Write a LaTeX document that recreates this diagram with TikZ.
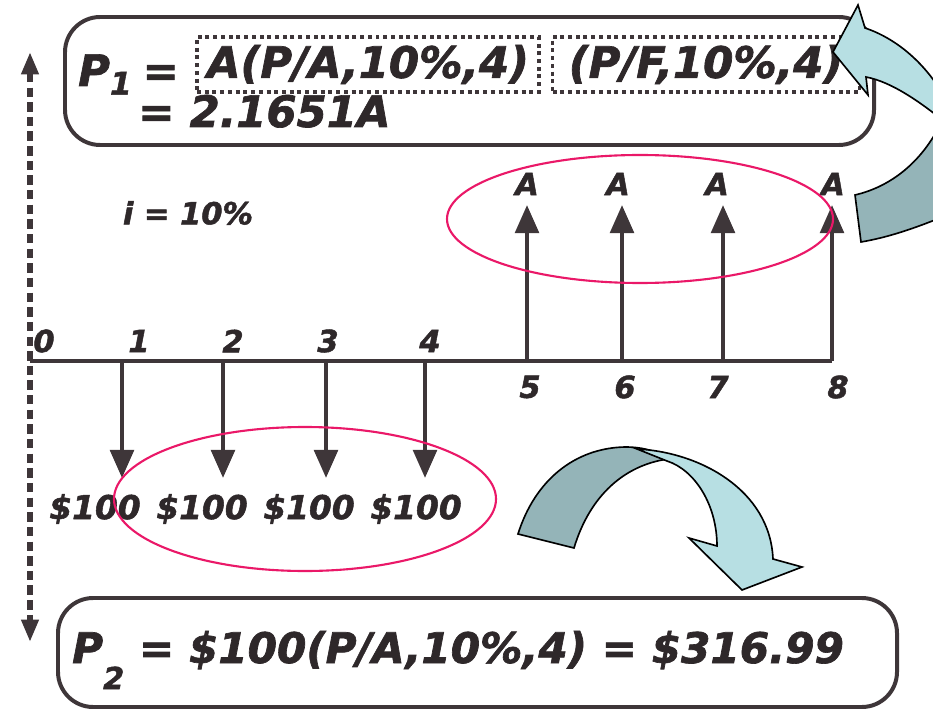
\documentclass[tikz,border=0pt]{standalone}
\usepackage{fontspec}
\setmainfont{DejaVu Sans}[BoldItalicFeatures={FakeBold=1.6}]
\usetikzlibrary{arrows.meta,calc}

\definecolor{ink}{RGB}{46,40,42}
\definecolor{rim}{RGB}{62,54,57}
\definecolor{ringpink}{RGB}{234,24,104}
\definecolor{swirllight}{RGB}{183,223,227}
\definecolor{swirldark}{RGB}{148,180,184}
\newcommand{\lowsub}[2]{\raisebox{#1}{\scalebox{0.72}{#2}}}

\begin{document}
\begin{tikzpicture}[
  x=0.03cm, y=-0.03cm,
  eqbox/.style={draw=rim, line width=3.4pt, rounded corners=30pt},
  term/.style={draw=rim, line width=3pt, dash pattern=on 3.4pt off 3.2pt, minimum height=47pt, inner sep=0pt,
    font=\fontsize{37}{40}\selectfont\bfseries\itshape, text=ink},
  eq/.style={anchor=base west, inner sep=0pt, text=ink, font=\fontsize{37}{40}\selectfont\bfseries\itshape},
  tickno/.style={inner sep=0pt, text=ink, font=\fontsize{26}{28}\selectfont\bfseries\itshape},
  cash/.style={inner sep=0pt, text=ink, font=\fontsize{28}{30}\selectfont\bfseries\itshape},
  timeline/.style={draw=rim, line width=3.4pt},
  flow/.style={draw=rim, line width=3.8pt, -{Triangle[length=24pt, width=20pt]}},
  span/.style={draw=rim, line width=4.6pt, dash pattern=on 8pt off 4.5pt, {Triangle[length=19pt, width=14pt]}-{Triangle[length=19pt, width=14pt]}},
  ring/.style={draw=ringpink, line width=1.8pt},
  swirl/.style={draw=black, line width=1.4pt, line join=miter},
]
  \useasboundingbox (0,0) rectangle (933,710);
  \clip (0,0) rectangle (933,710);

  % Present worth of the A series
  \draw[eqbox] (65,17) rectangle (874,145);
  \node[eq] (pone) at (78,86) {P\lowsub{-0.2em}{1}\hspace{0.25em}=};
  \node[term, minimum width=292pt] (pafactor) at (368,64.5) {A(P/A,10\%,4)};
  \node[term, minimum width=262pt] (pffactor) at (706,64.5) {(P/F,10\%,4)};
  \node[eq] (pvalue) at (138,127) {= 2.1651A};

  % Present worth of the payments
  \draw[eqbox] (58,598) rectangle (897,707);
  \node[eq, font=\fontsize{36}{38}\selectfont\bfseries\itshape] (ptwo) at (72,663)
    {P\lowsub{-0.62em}{2} = \$100(P/A,10\%,4) = \$316.99};

  % Time line
  \coordinate (vtop) at (30,52);
  \coordinate (vbot) at (30,642);
  \draw[span] (vtop) -- (vbot);
  \node[tickno] (rate) at (188,213) {i = 10\%};

  \coordinate (t0) at (30,361);
  \coordinate (t1) at (122,361);
  \coordinate (t2) at (223,361);
  \coordinate (t3) at (326,361);
  \coordinate (t4) at (425,361);
  \coordinate (t5) at (527,361);
  \coordinate (t6) at (622,361);
  \coordinate (t7) at (723,361);
  \coordinate (t8) at (832,361);
  \draw[timeline] (t0) -- (t8);

  \node[tickno] (n0) at (44,341) {0};
  \node[tickno] (n1) at (139,341) {1};
  \node[tickno] (n2) at (233,341) {2};
  \node[tickno] (n3) at (328,341) {3};
  \node[tickno] (n4) at (430,341) {4};
  \node[tickno] (n5) at (530,387) {5};
  \node[tickno] (n6) at (625,387) {6};
  \node[tickno] (n7) at (718,387) {7};
  \node[tickno] (n8) at (838,387) {8};

  % Payments
  \coordinate (pay1) at (122,478);
  \coordinate (pay2) at (223,478);
  \coordinate (pay3) at (326,478);
  \coordinate (pay4) at (425,478);
  \draw[flow] (t1) -- (pay1);
  \draw[flow] (t2) -- (pay2);
  \draw[flow] (t3) -- (pay3);
  \draw[flow] (t4) -- (pay4);
  \node[cash] (c1) at (95,509) {\$100};
  \node[cash] (c2) at (202,509) {\$100};
  \node[cash] (c3) at (309,509) {\$100};
  \node[cash] (c4) at (416,509) {\$100};

  % Receipts
  \coordinate (get5) at (527,205);
  \coordinate (get6) at (622,205);
  \coordinate (get7) at (723,205);
  \coordinate (get8) at (832,205);
  \draw[flow] (t5) -- (get5);
  \draw[flow] (t6) -- (get6);
  \draw[flow] (t7) -- (get7);
  \draw[flow] (t8) -- (get8);
  \node[tickno] (a5) at (527,184) {A};
  \node[tickno] (a6) at (618,184) {A};
  \node[tickno] (a7) at (717,184) {A};
  \node[tickno] (a8) at (833,184) {A};

  % Groupings
  \draw[ring] (640,219) ellipse [x radius=193, y radius=64];
  \draw[ring] (305,499) ellipse [x radius=191, y radius=72];

  % Curved arrows
  \filldraw[swirl, fill=swirldark] (855,195) .. controls (885,188) and (918,168) .. (940,125)
    -- (945,216) .. controls (915,228) and (890,237) .. (861,242) -- cycle;
  \filldraw[swirl, fill=swirllight] (833,52) -- (858,5) -- (865,28)
    .. controls (895,38) and (925,62) .. (945,98) -- (945,122)
    .. controls (920,102) and (892,82) .. (866,77) -- (868,95) -- cycle;
  \filldraw[swirl, fill=swirldark] (518,534) .. controls (535,480) and (575,448) .. (625,447)
    .. controls (645,447) and (658,452) .. (668,459)
    .. controls (625,465) and (590,495) .. (574,548) -- cycle;
  \filldraw[swirl, fill=swirllight] (637,449) .. controls (700,452) and (770,490) .. (773,559)
    -- (802,567) -- (742,590) -- (689,538) -- (717,546)
    .. controls (717,505) and (695,470) .. (667,461) -- cycle;
\end{tikzpicture}
\end{document}
